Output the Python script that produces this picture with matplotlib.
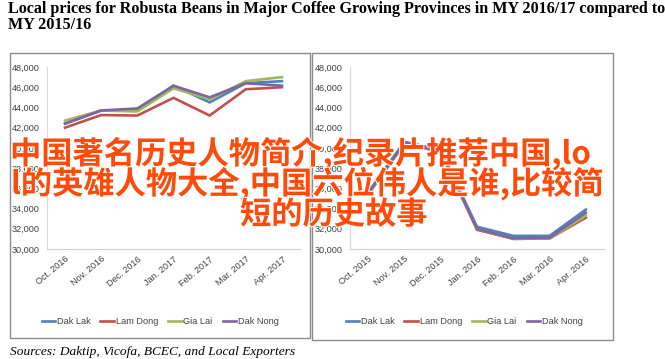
import numpy as np
import matplotlib
matplotlib.use("Agg")
import matplotlib.pyplot as plt
from matplotlib.patches import Rectangle
from matplotlib.font_manager import FontProperties
import matplotlib.patheffects as pe

# categories (months) for each marketing year
months_1617 = ['Oct. 2016', 'Nov. 2016', 'Dec. 2016', 'Jan. 2017', 'Feb. 2017', 'Mar. 2017', 'Apr. 2017']
months_1516 = ['Oct. 2015', 'Nov. 2015', 'Dec. 2015', 'Jan. 2016', 'Feb. 2016', 'Mar. 2016', 'Apr. 2016']

provinces = ['Dak Lak', 'Lam Dong', 'Gia Lai', 'Dak Nong']
colors = ['#4F81BD', '#C0504D', '#9BBB59', '#8064A2']

# MY 2016/17 prices (VND/kg)
dak_lak_1617 = [42400, 43700, 43700, 46150, 44500, 46400, 46600]
lam_dong_1617 = [42000, 43250, 43200, 44950, 43200, 45800, 46000]
gia_lai_1617 = [42700, 43700, 43600, 45900, 44800, 46600, 47000]
dak_nong_1617 = [42400, 43700, 43900, 46150, 45000, 46400, 46150]

# MY 2015/16 prices
dak_lak_1516 = [35600, 40600, 39800, 32200, 31300, 31300, 33900]
lam_dong_1516 = [35400, 40400, 39600, 31900, 31000, 31050, 33100]
gia_lai_1516 = [35400, 40450, 39650, 32000, 31000, 31050, 33300]
dak_nong_1516 = [35500, 40500, 39700, 32000, 31050, 31100, 33600]

yticks = [30000, 32000, 34000, 36000, 38000, 40000, 42000, 44000, 46000, 48000]

small = FontProperties(family='Liberation Sans', size=6.6)

W, H = 665, 359
fig = plt.figure(figsize=(W / 100, H / 100), dpi=100)


def fx(px):
    return px / W


def fy(py):
    return 1 - py / H


# panel frames
for x0, y0, x1, y1 in [(10, 53, 310, 338), (312, 53, 613, 340)]:
    fig.add_artist(Rectangle((fx(x0), fy(y1)), fx(x1 - x0), (y1 - y0) / H,
                             transform=fig.transFigure, fill=False,
                             edgecolor='#8c8c8c', linewidth=1.0))


def draw_panel(left_px, right_px, months, series, legend_x):
    ax = fig.add_axes([fx(left_px), fy(249), fx(right_px - left_px), (249 - 67) / H])
    x = np.arange(len(months))
    for vals, name, c in zip(series, provinces, colors):
        ax.plot(x, vals, color=c, linewidth=1.9, label=name, solid_joinstyle='miter')
    ax.set_xlim(-0.5, len(months) - 0.5)
    ax.set_ylim(30000, 48000)
    ax.set_yticks(yticks)
    ax.set_yticklabels([f'{v:,}' for v in yticks], fontproperties=small, color='#404040')
    ax.set_xticks(x)
    ax.set_xticklabels(months, rotation=40, ha='right', rotation_mode='anchor',
                       fontproperties=small, color='#404040')
    ax.tick_params(axis='y', length=0, pad=5)
    ax.tick_params(axis='x', length=0, pad=4)
    for s in ['top', 'right']:
        ax.spines[s].set_visible(False)
    ax.spines['left'].set_color('#d9d9d9')
    ax.spines['bottom'].set_color('#d0d0d0')
    ax.spines['left'].set_linewidth(0.8)
    ax.spines['bottom'].set_linewidth(0.8)
    leg = ax.legend(loc='center', bbox_to_anchor=(fx(legend_x), fy(322)),
                    bbox_transform=fig.transFigure, ncol=4, frameon=False,
                    prop=small, handlelength=1.5,
                    handletextpad=0.15, columnspacing=1.1)
    for t in leg.get_texts():
        t.set_color('#404040')
    return ax


draw_panel(47, 300, months_1617,
           [dak_lak_1617, lam_dong_1617, gia_lai_1617, dak_nong_1617], 160)
draw_panel(350, 604, months_1516,
           [dak_lak_1516, lam_dong_1516, gia_lai_1516, dak_nong_1516], 464)

# title and source
fig.text(fx(8), fy(1), 'Local prices for Robusta Beans in Major Coffee Growing Provinces in MY 2016/17 compared to\nMY 2015/16',
         family='Liberation Serif', weight='bold', fontsize=11.6, va='top', ha='left',
         linespacing=1.0)
fig.text(fx(10), fy(355), 'Sources: Daktip, Vicofa, BCEC, and Local Exporters',
         family='Liberation Serif', style='italic', fontsize=9.6, va='baseline', ha='left')

# overlaid banner text
wm_font = ['Noto Sans CJK SC', 'DejaVu Sans']
halo = [pe.withStroke(linewidth=1.5, foreground='white')]
for txt, x0, yc in [('中国著名历史人物简介,纪录片推荐中国,lo', 10, 154),
                    ('l的英雄人物大全,中国六位伟人是谁,比较简', 11, 184),
                    ('短的历史故事', 240, 215)]:
    fig.text(fx(x0), fy(yc), txt, family=wm_font, fontsize=22.5, weight='bold',
             color='#ff4a0a', ha='left', va='center', path_effects=halo)

fig.savefig('out.png', dpi=100)
